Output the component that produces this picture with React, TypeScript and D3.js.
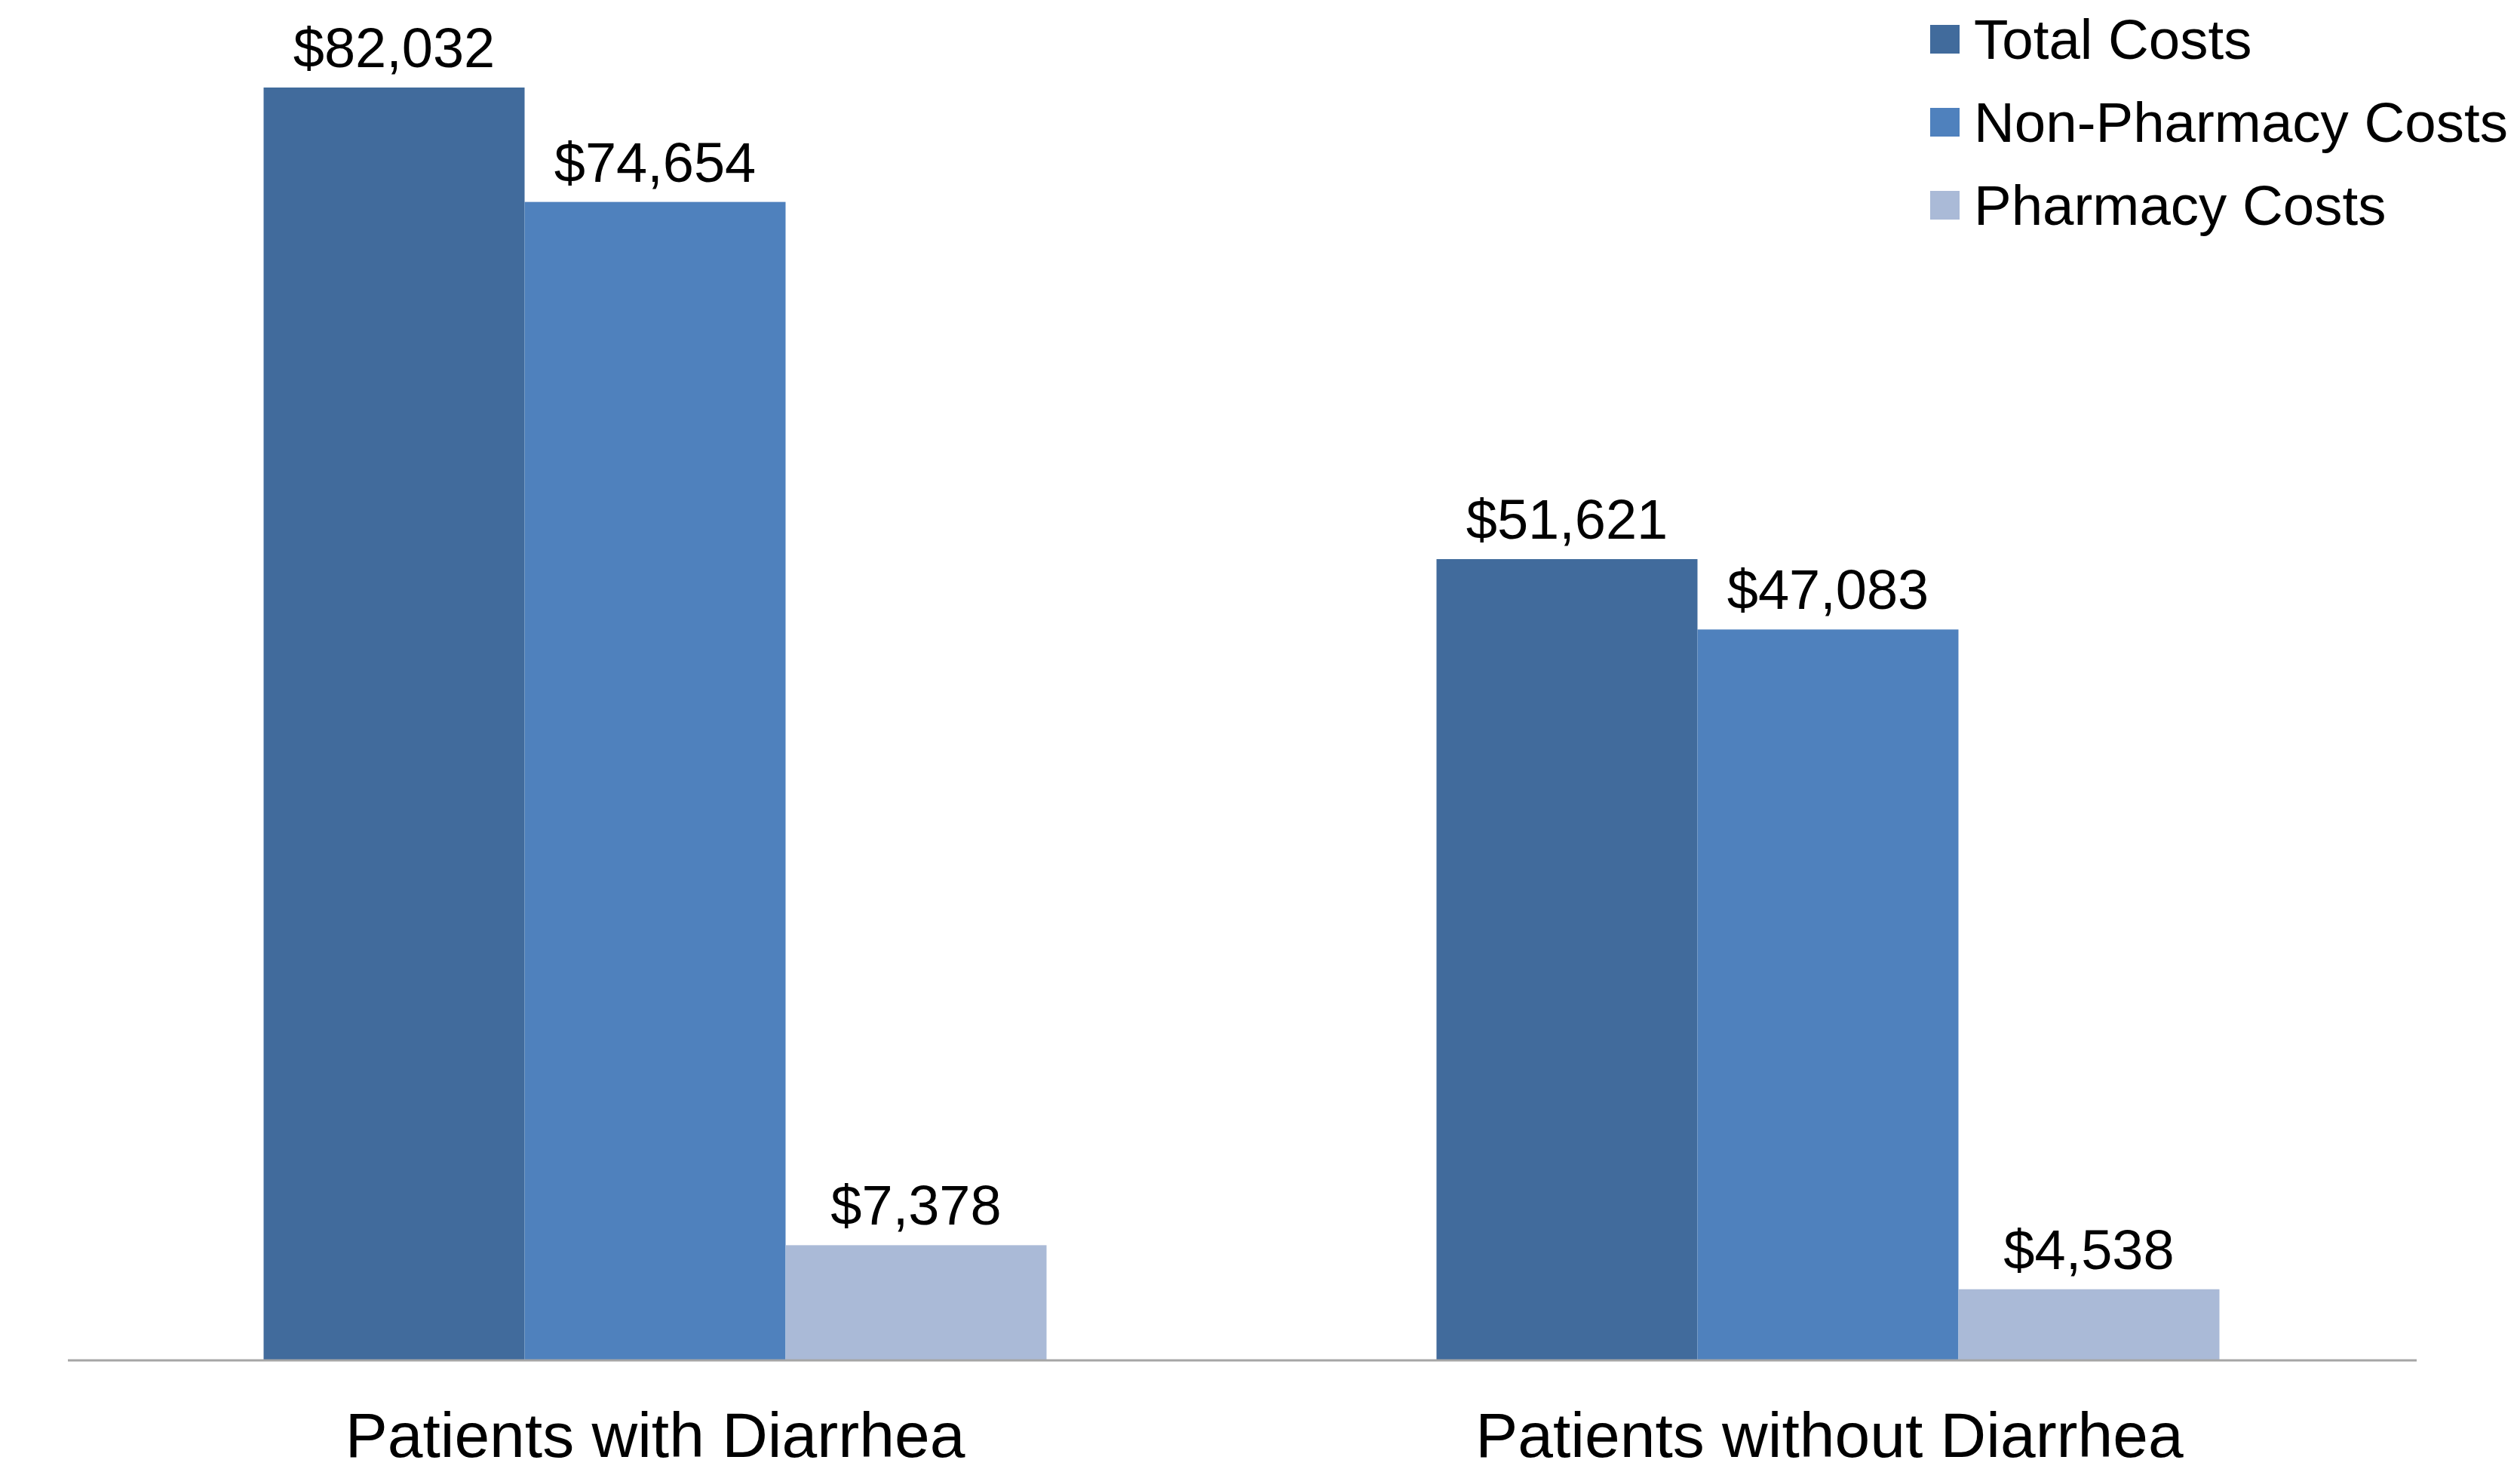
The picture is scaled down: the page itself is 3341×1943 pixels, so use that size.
import React from "react";
import * as d3 from "d3";

const categories = ["Patients with Diarrhea", "Patients without Diarrhea"];
const seriesNames = ["Total Costs", "Non-Pharmacy Costs", "Pharmacy Costs"];
const totalCosts = [82032, 51621];
const nonPharmacyCosts = [74654, 47083];
const pharmacyCosts = [7378, 4538];
const seriesColors = ["#416B9C", "#4F81BD", "#AABAD7"];

const W = 3341;
const H = 1943;
const FONT = "'Liberation Sans', Arial, Helvetica, sans-serif";

export default function App() {
  const series = [totalCosts, nonPharmacyCosts, pharmacyCosts];
  const x0 = d3.scaleBand<string>().domain(categories).range([90, 3204]);
  const band = x0.bandwidth();
  const groupW = 1038;
  const x1 = d3.scaleBand<number>().domain([0, 1, 2]).range([0, groupW]).padding(0);
  const y = d3.scaleLinear().domain([0, 82032]).range([1802, 116]);
  const fmt = (v: number) => "$" + d3.format(",")(v);

  return (
    <svg width={W} height={H} style={{ position: "absolute", left: 0, top: 0, background: "#fff" }} fontFamily={FONT}>
      <rect x={0} y={0} width={W} height={H} fill="#fff" />
      {categories.map((c, ci) => {
        const gx = (x0(c) as number) + (band - groupW) / 2 - ci * 2;
        return (
          <g key={c}>
            {series.map((s, si) => {
              const bx = gx + (x1(si) as number);
              const by = y(s[ci]);
              return (
                <g key={si}>
                  <rect x={bx} y={by} width={x1.bandwidth()} height={y(0) - by} fill={seriesColors[si]} />
                  <text x={bx + x1.bandwidth() / 2} y={by - 27} textAnchor="middle" fontSize={74} fill="#000">
                    {fmt(s[ci])}
                  </text>
                </g>
              );
            })}
            <text x={(x0(c) as number) + band / 2} y={1931} textAnchor="middle" fontSize={84} fill="#000">
              {c}
            </text>
          </g>
        );
      })}
      <line x1={90} x2={3204} y1={y(0) + 1} y2={y(0) + 1} stroke="#A6A6A6" strokeWidth={3} />
      {seriesNames.map((n, i) => (
        <g key={n} transform={`translate(2559, ${33 + i * 110})`}>
          <rect x={0} y={0} width={39} height={38} fill={seriesColors[i]} />
          <text x={58} y={45} fontSize={74.5} fill="#000">
            {n}
          </text>
        </g>
      ))}
    </svg>
  );
}
